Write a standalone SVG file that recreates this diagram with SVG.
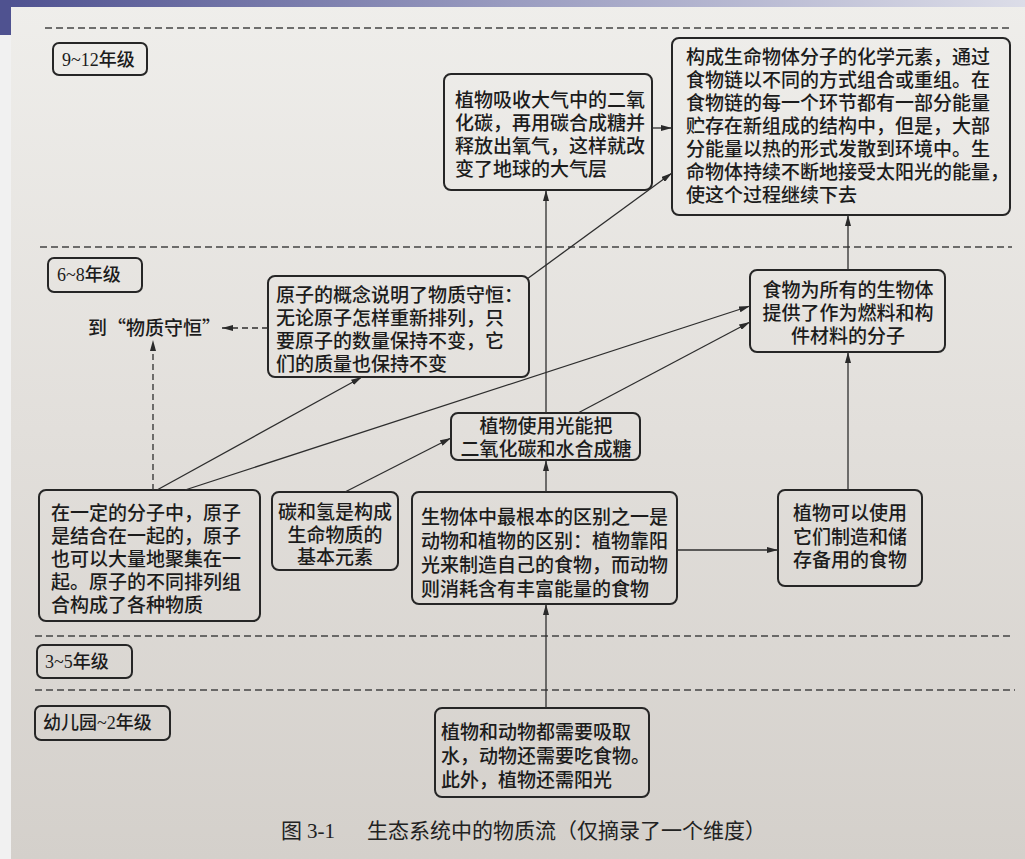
<svg xmlns="http://www.w3.org/2000/svg" width="1025" height="859" viewBox="0 0 1025 859">
<defs>
<linearGradient id="bg" x1="0" y1="0" x2="0" y2="1">
<stop offset="0" stop-color="#efeeeb"/>
<stop offset="0.5" stop-color="#e2dfdb"/>
<stop offset="1" stop-color="#d4d0cb"/>
</linearGradient>
<linearGradient id="banner" x1="0" y1="0" x2="1" y2="0">
<stop offset="0" stop-color="#4e5190"/>
<stop offset="0.5" stop-color="#9a9cc0"/>
<stop offset="1" stop-color="#dcdde8"/>
</linearGradient>
<marker id="ah" viewBox="0 0 11 6" refX="11" refY="3" markerWidth="11" markerHeight="6" markerUnits="userSpaceOnUse" orient="auto">
<path d="M0,0 L11,3 L0,6 z" fill="#2a2a2a"/>
</marker>
<style>
.box{fill:none;stroke:#262626;stroke-width:2}
.t{font-family:"Liberation Sans","Noto Sans CJK SC","Noto Sans CJK JP",sans-serif;font-size:19px;font-weight:500;fill:#1c1c1c}
.q{font-family:"Noto Sans CJK SC","Noto Sans CJK JP",sans-serif;font-size:19px;font-weight:500;fill:#1c1c1c}
.g{font-family:"Liberation Serif","Noto Sans CJK SC",serif;font-size:18px;font-weight:500;fill:#1c1c1c}
.c{text-anchor:middle}
.ln{fill:none;stroke:#2e2e2e;stroke-width:1.3}
.dl{fill:none;stroke:#2e2e2e;stroke-width:1.3;stroke-dasharray:6 4}
.sep{fill:none;stroke:#444;stroke-width:1.3;stroke-dasharray:7 4}
.cap{font-family:"Liberation Sans","Noto Sans CJK SC",sans-serif;font-size:21px;font-weight:400;fill:#222}
.capn{font-family:"Liberation Serif",serif;font-size:21px;fill:#222}
</style>
</defs>
<rect x="0" y="0" width="1025" height="859" fill="#f1f1f1"/>
<rect x="11" y="0" width="1014" height="859" fill="url(#bg)"/>
<rect x="0" y="0" width="1025" height="7" fill="url(#banner)"/>
<rect x="0" y="0" width="11" height="35" fill="#4f5290"/>

<g id="separators">
<line class="sep" x1="45" y1="28" x2="1010" y2="28"/>
<line class="sep" x1="40" y1="247" x2="1012" y2="247"/>
<line class="sep" x1="35" y1="636" x2="1012" y2="636"/>
<line class="sep" x1="35" y1="690" x2="1015" y2="690"/>
</g>

<g id="grade-9-12"><rect class="box" x="53" y="43" width="94" height="32" rx="6"/><text class="g" x="62" y="66">9~12年级</text></g>
<g id="grade-6-8"><rect class="box" x="48" y="258" width="94" height="34" rx="6"/><text class="g" x="57" y="281">6~8年级</text></g>
<g id="grade-3-5"><rect class="box" x="37" y="645" width="95" height="33" rx="6"/><text class="g" x="45" y="668">3~5年级</text></g>
<g id="grade-k-2"><rect class="box" x="35" y="706" width="135" height="34" rx="6"/><text class="g" x="43" y="729">幼儿园~2年级</text></g>

<g id="n-elements">
<rect class="box" x="672" y="38" width="338" height="177" rx="7"/>
<text class="t"><tspan x="686" y="64">构成生命物体分子的化学元素，通过</tspan><tspan x="686" y="87">食物链以不同的方式组合或重组。在</tspan><tspan x="686" y="110">食物链的每一个环节都有一部分能量</tspan><tspan x="686" y="133">贮存在新组成的结构中，但是，大部</tspan><tspan x="686" y="156">分能量以热的形式发散到环境中。生</tspan><tspan x="686" y="179">命物体持续不断地接受太阳光的能量，</tspan><tspan x="686" y="202">使这个过程继续下去</tspan></text>
</g>

<g id="n-atmosphere">
<rect class="box" x="444" y="74" width="208" height="116" rx="7"/>
<text class="t"><tspan x="455" y="107">植物吸收大气中的二氧</tspan><tspan x="455" y="130">化碳，再用碳合成糖并</tspan><tspan x="455" y="153">释放出氧气，这样就改</tspan><tspan x="455" y="176">变了地球的大气层</tspan></text>
</g>

<g id="n-conservation-target">
<text class="q" x="88" y="335">到“物质守恒”</text>
</g>

<g id="n-conservation">
<rect class="box" x="268" y="276" width="261" height="101" rx="7"/>
<text class="t"><tspan x="276" y="302">原子的概念说明了物质守恒：</tspan><tspan x="276" y="325">无论原子怎样重新排列，只</tspan><tspan x="276" y="348">要原子的数量保持不变，它</tspan><tspan x="276" y="371">们的质量也保持不变</tspan></text>
</g>

<g id="n-food">
<rect class="box" x="750" y="270" width="195" height="82" rx="7"/>
<text class="t c"><tspan x="848" y="297">食物为所有的生物体</tspan><tspan x="848" y="320">提供了作为燃料和构</tspan><tspan x="848" y="343">件材料的分子</tspan></text>
</g>

<g id="n-photosynthesis">
<rect class="box" x="451" y="413" width="189" height="47" rx="7"/>
<text class="t c"><tspan x="546" y="433">植物使用光能把</tspan><tspan x="546" y="456">二氧化碳和水合成糖</tspan></text>
</g>

<g id="n-atoms">
<rect class="box" x="39" y="490" width="221" height="131" rx="7"/>
<text class="t"><tspan x="51" y="520">在一定的分子中，原子</tspan><tspan x="51" y="543">是结合在一起的，原子</tspan><tspan x="51" y="566">也可以大量地聚集在一</tspan><tspan x="51" y="589">起。原子的不同排列组</tspan><tspan x="51" y="612">合构成了各种物质</tspan></text>
</g>

<g id="n-carbon">
<rect class="box" x="272" y="492" width="126" height="78" rx="7"/>
<text class="t c"><tspan x="335" y="519">碳和氢是构成</tspan><tspan x="335" y="542">生命物质的</tspan><tspan x="335" y="564">基本元素</tspan></text>
</g>

<g id="n-distinction">
<rect class="box" x="412" y="492" width="265" height="112" rx="7"/>
<text class="t"><tspan x="421" y="524">生物体中最根本的区别之一是</tspan><tspan x="421" y="548">动物和植物的区别：植物靠阳</tspan><tspan x="421" y="572">光来制造自己的食物，而动物</tspan><tspan x="421" y="596">则消耗含有丰富能量的食物</tspan></text>
</g>

<g id="n-store">
<rect class="box" x="778" y="490" width="144" height="96" rx="7"/>
<text class="t c"><tspan x="850" y="520">植物可以使用</tspan><tspan x="850" y="544">它们制造和储</tspan><tspan x="850" y="567">存备用的食物</tspan></text>
</g>

<g id="n-needs">
<rect class="box" x="435" y="708" width="214" height="89" rx="7"/>
<text class="t"><tspan x="441" y="739">植物和动物都需要吸取</tspan><tspan x="441" y="763">水，动物还需要吃食物。</tspan><tspan x="441" y="787">此外，植物还需阳光</tspan></text>
</g>

<g id="connectors">
<path class="ln" d="M652,128 L672,128" marker-end="url(#ah)"/>
<path class="ln" d="M527,279 L672,173" marker-end="url(#ah)"/>
<path class="ln" d="M546,413 L546,190" marker-end="url(#ah)"/>
<path class="ln" d="M848,270 L848,215" marker-end="url(#ah)"/>
<path class="ln" d="M848,490 L848,352" marker-end="url(#ah)"/>
<path class="ln" d="M578,413 L750,322" marker-end="url(#ah)"/>
<path class="ln" d="M185,490 L750,306" marker-end="url(#ah)"/>
<path class="ln" d="M157,490 L362,377" marker-end="url(#ah)"/>
<path class="ln" d="M345,492 L451,438" marker-end="url(#ah)"/>
<path class="ln" d="M546,492 L546,460" marker-end="url(#ah)"/>
<path class="ln" d="M677,550 L778,550" marker-end="url(#ah)"/>
<path class="ln" d="M546,708 L546,604" marker-end="url(#ah)"/>
<path class="dl" d="M268,328 L222,328" marker-end="url(#ah)"/>
<path class="dl" d="M153,490 L153,340" marker-end="url(#ah)"/>
</g>

<g id="caption">
<text class="cap" x="281" y="838">图<tspan class="capn" x="307">3-1</tspan><tspan x="367">生态系统中的物质流（仅摘录了一个维度）</tspan></text>
</g>
</svg>
